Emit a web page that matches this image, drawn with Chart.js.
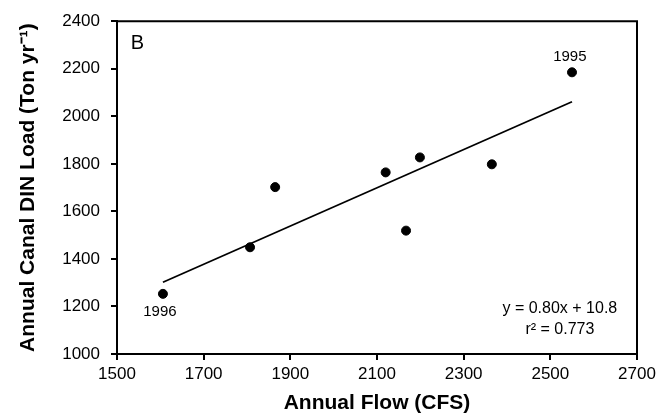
<!DOCTYPE html>
<html>
<head>
<meta charset="utf-8">
<script src="https://cdn.jsdelivr.net/npm/chart.js@4.4.1/dist/chart.umd.min.js"></script>
<style>
  html, body { margin: 0; padding: 0; background: #fff; }
  #wrap { width: 670px; height: 416px; }
</style>
</head>
<body>
<div id="wrap"><canvas id="c" width="670" height="416"></canvas></div>
<script>
// ---- data ----
const flowCFS = [1606, 1807, 1865, 2120, 2167, 2199, 2365, 2550];
const dinLoad = [1253, 1449, 1702, 1764, 1519, 1827, 1798, 2185];
const trendX = [1606, 2550];
const trendY = [1302, 2061];
const xTicks = [1500, 1700, 1900, 2100, 2300, 2500, 2700];
const yTicks = [1000, 1200, 1400, 1600, 1800, 2000, 2200, 2400];
const annotTexts = ['B', '1995', '1996', 'y = 0.80x + 10.8', 'r\u00B2 = 0.773'];
const annotX = [1547, 2545, 1599, 2522, 2522];
const annotY = [2307, 2250, 1179, 1193, 1102];
const annotSizes = [20, 15, 15, 16, 16];

const FONT = "'Liberation Sans', Arial, Helvetica, sans-serif";

const framePlugin = {
  id: 'frame',
  afterDatasetsDraw(chart) {
    const {ctx, chartArea: a, scales} = chart;
    ctx.save();
    ctx.strokeStyle = '#000';
    ctx.lineWidth = 2;
    ctx.beginPath();
    ctx.moveTo(a.left, a.top);
    ctx.lineTo(a.right, a.top);
    ctx.lineTo(a.right, a.bottom);
    ctx.stroke();
    ctx.fillStyle = '#000';
    ctx.textAlign = 'center';
    ctx.textBaseline = 'middle';
    for (let i = 0; i < annotTexts.length; i++) {
      ctx.font = annotSizes[i] + 'px ' + FONT;
      ctx.fillText(annotTexts[i],
        scales.x.getPixelForValue(annotX[i]),
        scales.y.getPixelForValue(annotY[i]));
    }
    ctx.restore();
  }
};

new Chart(document.getElementById('c'), {
  type: 'scatter',
  data: {
    datasets: [
      {
        label: 'Annual DIN load',
        data: flowCFS.map((x, i) => ({x: x, y: dinLoad[i]})),
        backgroundColor: '#000',
        borderColor: '#000',
        pointRadius: 4.5,
        pointHoverRadius: 4.5,
        order: 1
      },
      {
        label: 'Regression',
        data: trendX.map((x, i) => ({x: x, y: trendY[i]})),
        showLine: true,
        borderColor: '#000',
        borderWidth: 1.8,
        pointRadius: 0,
        fill: false,
        order: 2
      }
    ]
  },
  options: {
    responsive: false,
    animation: false,
    devicePixelRatio: 1,
    layout: { padding: { left: 0, top: 17, right: 33, bottom: 0 } },
    plugins: { legend: { display: false }, tooltip: { enabled: false } },
    scales: {
      x: {
        type: 'linear',
        min: 1500, max: 2700,
        afterBuildTicks(scale) { scale.ticks = xTicks.map(v => ({value: v})); },
        afterFit(scale) { scale.height = 62; },
        ticks: {
          color: '#000',
          font: { family: FONT, size: 17 },
          padding: 4,
          maxRotation: 0,
          callback: v => String(v)
        },
        grid: { drawOnChartArea: false, drawTicks: true, tickLength: 6, color: '#000', lineWidth: 2 },
        border: { display: true, color: '#000', width: 2 },
        title: {
          display: true,
          text: 'Annual Flow (CFS)',
          color: '#000',
          font: { family: FONT, size: 21, weight: 'bold' },
          padding: { top: 0, bottom: 0 }
        }
      },
      y: {
        type: 'linear',
        min: 1000, max: 2400,
        afterBuildTicks(scale) { scale.ticks = yTicks.map(v => ({value: v})); },
        afterFit(scale) { scale.width = 117; },
        ticks: {
          color: '#000',
          font: { family: FONT, size: 17 },
          padding: 11,
          callback: v => String(v)
        },
        grid: { drawOnChartArea: false, drawTicks: true, tickLength: 6, color: '#000', lineWidth: 2 },
        border: { display: true, color: '#000', width: 2 },
        title: {
          display: true,
          text: 'Annual Canal DIN Load (Ton yr\u207B\u00B9)',
          color: '#000',
          font: { family: FONT, size: 21, weight: 'bold' },
          padding: { top: 16, bottom: 0 }
        }
      }
    }
  },
  plugins: [framePlugin]
});
</script>
</body>
</html>
